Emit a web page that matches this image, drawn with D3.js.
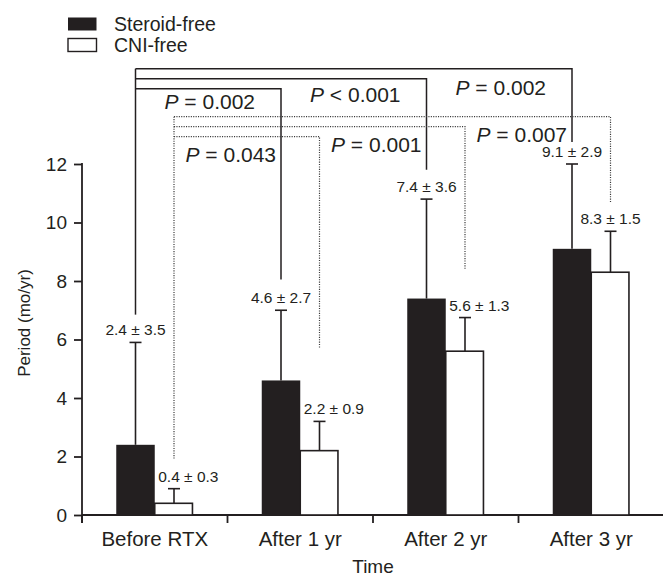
<!DOCTYPE html>
<html>
<head>
<meta charset="utf-8">
<script src="https://cdn.jsdelivr.net/npm/d3@7"></script>
<style>
  html, body { margin: 0; padding: 0; background: #fff; }
  svg { display: block; font-family: "Liberation Sans", Arial, Helvetica, sans-serif; }
</style>
</head>
<body>
<svg id="chart" width="663" height="579"></svg>
<script>
// ---- data ----
const categories = ["Before RTX", "After 1 yr", "After 2 yr", "After 3 yr"];
const seriesNames = ["Steroid-free", "CNI-free"];
const steroidFree = [2.4, 4.6, 7.4, 9.1];
const cniFree = [0.4, 2.2, 5.6, 8.3];
const steroidErrTop = [5.9, 7.0, 10.8, 12.0];
const cniErrTop = [0.9, 3.2, 6.75, 9.7];
const steroidLabels = ["2.4 ± 3.5", "4.6 ± 2.7", "7.4 ± 3.6", "9.1 ± 2.9"];
const cniLabels = ["0.4 ± 0.3", "2.2 ± 0.9", "5.6 ± 1.3", "8.3 ± 1.5"];
const yTicks = [0, 2, 4, 6, 8, 10, 12];
// comparisons of Before RTX vs After 1/2/3 yr
const steroidP = ["= 0.002", "< 0.001", "= 0.002"];
const cniP = ["= 0.043", "= 0.001", "= 0.007"];
// where the bracket legs stop (value units)
const steroidBaseLegEnd = 6.85;
const steroidLegEnd = [8.05, 11.8, 12.75];
const cniBaseLegEnd = 1.9;
const cniLegEnd = [5.7, 8.4, 10.65];

// ---- layout ----
const ink = "#231f20";
const svg = d3.select("#chart");
const x = d3.scaleBand().domain(categories).range([82, 664]);
const inner = d3.scaleBand().domain(seriesNames).range([0, 77]);
const y = d3.scaleLinear().domain([0, 12]).range([515, 164]);
const groupLeft = c => x(c) + x.bandwidth() / 2 - 38.5;
const barCenter = (c, s) => groupLeft(c) + inner(s) + inner.bandwidth() / 2;

// ---- y axis ----
const yAxis = svg.append("g").attr("transform", "translate(82,0)")
  .call(d3.axisLeft(y).tickValues(yTicks).tickSize(8).tickPadding(7).tickFormat(d3.format("d")));
yAxis.select(".domain").remove();
yAxis.selectAll(".tick line").attr("stroke", ink).attr("stroke-width", 1.8);
yAxis.selectAll(".tick text").attr("fill", ink).style("font-size", "19px")
  .style("font-family", "'Liberation Sans', Arial, sans-serif");
svg.append("line").attr("x1", 82).attr("x2", 82).attr("y1", y(12) - 1).attr("y2", y(0) + 8)
  .attr("stroke", ink).attr("stroke-width", 1.8);

// ---- x axis ----
const xAxis = svg.append("g").attr("transform", "translate(0,515)");
xAxis.append("line").attr("x1", 82).attr("x2", 664).attr("stroke", ink).attr("stroke-width", 1.8);
xAxis.selectAll("line.tk").data(categories).join("line").attr("class", "tk")
  .attr("x1", d => x(d)).attr("x2", d => x(d)).attr("y1", 0).attr("y2", 8)
  .attr("stroke", ink).attr("stroke-width", 1.8);
xAxis.selectAll("text").data(categories).join("text")
  .attr("x", d => x(d) + x.bandwidth() / 2).attr("y", 31)
  .attr("text-anchor", "middle").attr("fill", ink).style("font-size", "20.5px").text(d => d);

// axis titles
svg.append("text").attr("transform", "translate(30,323) rotate(-90)")
  .attr("text-anchor", "middle").attr("fill", ink).style("font-size", "17px").text("Period (mo/yr)");
svg.append("text").attr("x", 373).attr("y", 573).attr("text-anchor", "middle")
  .attr("fill", ink).style("font-size", "19px").text("Time");

// ---- bars ----
const rows = categories.map((c, i) => ({ c, s: steroidFree[i], n: cniFree[i],
  se: steroidErrTop[i], ne: cniErrTop[i], sl: steroidLabels[i], nl: cniLabels[i], i }));

// error bars (drawn first so bars cover the stem base)
const errG = svg.append("g").attr("stroke", ink).attr("stroke-width", 1.6);
rows.forEach(r => {
  [[seriesNames[0], r.s, r.se], [seriesNames[1], r.n, r.ne]].forEach(([s, v, top]) => {
    const cx = barCenter(r.c, s);
    errG.append("line").attr("x1", cx).attr("x2", cx).attr("y1", y(v)).attr("y2", y(top));
    errG.append("line").attr("x1", cx - 6).attr("x2", cx + 6).attr("y1", y(top)).attr("y2", y(top));
  });
});

svg.append("g").selectAll("rect").data(rows).join("rect")
  .attr("x", d => groupLeft(d.c) + inner(seriesNames[0]))
  .attr("width", inner.bandwidth())
  .attr("y", d => y(d.s)).attr("height", d => y(0) - y(d.s))
  .attr("fill", ink);
svg.append("g").selectAll("rect").data(rows).join("rect")
  .attr("x", d => groupLeft(d.c) + inner(seriesNames[1]))
  .attr("width", inner.bandwidth() - 0.8)
  .attr("y", d => y(d.n)).attr("height", d => y(0) - y(d.n))
  .attr("fill", "#fff").attr("stroke", ink).attr("stroke-width", 1.6);

// value labels
const valG = svg.append("g").attr("fill", ink).style("font-size", "15.5px");
rows.forEach(r => {
  valG.append("text").attr("x", barCenter(r.c, seriesNames[0])).attr("y", y(r.se) - 7)
    .attr("text-anchor", "middle").text(r.sl);
  const last = r.i === categories.length - 1;
  valG.append("text")
    .attr("x", last ? barCenter(r.c, seriesNames[1]) : groupLeft(r.c) + inner(seriesNames[1]) + 3.5)
    .attr("y", y(r.ne) - 7)
    .attr("text-anchor", last ? "middle" : "start").text(r.nl);
});

// ---- significance brackets ----
const brG = svg.append("g").attr("fill", "none");
function bracket(series, pList, baseEnd, legEnds, levelBase, dotted) {
  const x0 = barCenter(categories[0], series);
  const g = brG.append("g").attr("stroke", dotted ? "#3a3a3a" : ink)
    .attr("stroke-width", dotted ? 1.2 : 1.5)
    .attr("stroke-dasharray", dotted ? "1.1,1.3" : null);
  const topLevel = levelBase - (pList.length - 1) * 10;
  g.append("line").attr("x1", x0).attr("x2", x0).attr("y1", topLevel).attr("y2", y(baseEnd));
  pList.forEach((p, k) => {
    const ly = levelBase - k * 10;
    const x1 = barCenter(categories[k + 1], series);
    g.append("path").attr("d", `M${x0},${ly}H${x1}V${y(legEnds[k])}`);
  });
}
bracket(seriesNames[0], steroidP, steroidBaseLegEnd, steroidLegEnd, 88.7, false);
bracket(seriesNames[1], cniP, cniBaseLegEnd, cniLegEnd, 136.7, true);

// p-value labels
const pG = svg.append("g").attr("fill", ink).style("font-size", "21px");
function pLabel(text, xEnd, yBase) {
  const t = pG.append("text").attr("x", xEnd).attr("y", yBase).attr("text-anchor", "end");
  t.append("tspan").style("font-style", "italic").text("P");
  t.append("tspan").text(" " + text);
}
steroidP.forEach((p, k) => {
  const legX = barCenter(categories[k + 1], seriesNames[0]);
  pLabel(p, legX - 26, 88.7 - k * 10 + 20.6 + k * 2.7);
});
cniP.forEach((p, k) => {
  const legX = barCenter(categories[k + 1], seriesNames[0]);
  pLabel(p, legX - 5, 136.7 - k * 10 + 25);
});

// ---- legend ----
const lg = svg.append("g");
seriesNames.forEach((s, i) => {
  lg.append("rect").attr("x", 68).attr("y", 17.5 + i * 21).attr("width", 28.5).attr("height", 13)
    .attr("fill", i === 0 ? ink : "#fff").attr("stroke", ink).attr("stroke-width", i === 0 ? 0 : 1.4);
  lg.append("text").attr("x", 114).attr("y", 31 + i * 21).attr("fill", ink)
    .style("font-size", "19.5px").text(s);
});
</script>
</body>
</html>
